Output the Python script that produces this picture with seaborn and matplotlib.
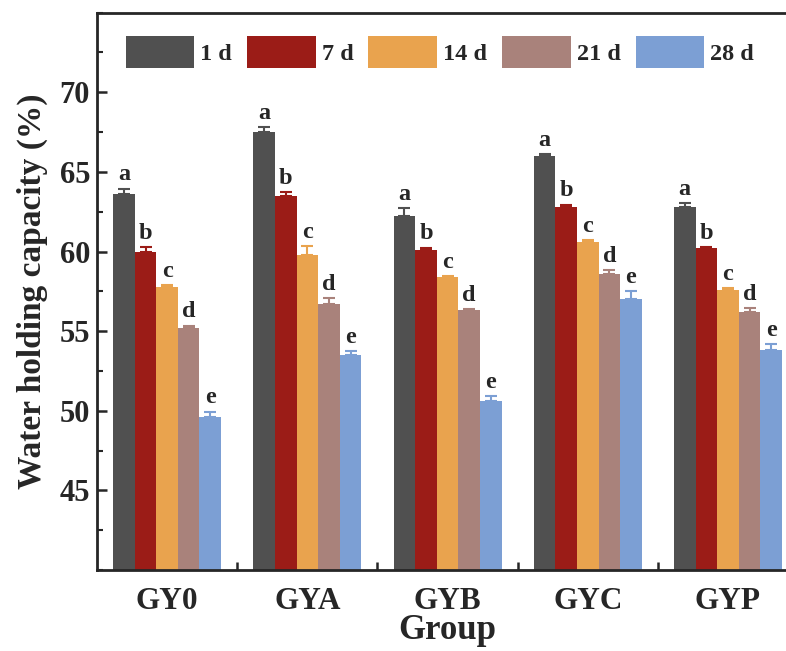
import matplotlib
matplotlib.use('Agg')
import matplotlib.pyplot as plt
import seaborn as sns
import pandas as pd
from matplotlib.ticker import MultipleLocator, FixedLocator

groups = ['GY0', 'GYA', 'GYB', 'GYC', 'GYP']
days = ['1 d', '7 d', '14 d', '21 d', '28 d']
colors = ['#505050', '#9b1c17', '#e9a34e', '#a9827b', '#7c9fd4']

# mean values, one list per day (order of groups)
val_1d = [63.6, 67.5, 62.2, 66.0, 62.8]
val_7d = [60.0, 63.5, 60.1, 62.8, 60.2]
val_14d = [57.8, 59.8, 58.4, 60.6, 57.6]
val_21d = [55.2, 56.7, 56.3, 58.6, 56.2]
val_28d = [49.6, 53.5, 50.6, 57.0, 53.8]

# standard errors
err_1d = [0.35, 0.3, 0.55, 0.12, 0.25]
err_7d = [0.3, 0.25, 0.15, 0.15, 0.08]
err_14d = [0.08, 0.55, 0.08, 0.12, 0.1]
err_21d = [0.15, 0.4, 0.08, 0.25, 0.25]
err_28d = [0.35, 0.25, 0.3, 0.5, 0.4]

letters = ['a', 'b', 'c', 'd', 'e']

values = [val_1d, val_7d, val_14d, val_21d, val_28d]
errors = [err_1d, err_7d, err_14d, err_21d, err_28d]

rows = []
for d, vals in zip(days, values):
    for g, v in zip(groups, vals):
        rows.append({'Group': g, 'Day': d, 'Value': v})
df = pd.DataFrame(rows)

sns.set_style('ticks')
plt.rcParams['font.family'] = ['Liberation Serif', 'DejaVu Serif']
plt.rcParams['font.weight'] = 'bold'

fig = plt.figure(figsize=(7.86, 6.51), dpi=100)
ax = fig.add_axes([0.1234, 0.1245, 0.892, 0.856])

sns.barplot(data=df, x='Group', y='Value', hue='Day', order=groups,
            hue_order=days, palette=colors, width=0.77, errorbar=None,
            saturation=1, linewidth=0, ax=ax)

# error bars (upper only) and significance letters
bar_conts = list(ax.containers)
for i, cont in enumerate(bar_conts):
    xs = [p.get_x() + p.get_width() / 2 for p in cont.patches]
    ys = [p.get_height() for p in cont.patches]
    ax.errorbar(xs, ys, yerr=[[0] * len(ys), errors[i]], fmt='none',
                ecolor=colors[i], elinewidth=1.5, capsize=4.3, capthick=1.5)
    for x, y, e in zip(xs, ys, errors[i]):
        ax.text(x, y + e + 0.2, letters[i], ha='center', va='bottom',
                fontsize=17.5, fontweight='bold')

ax.set_ylim(40, 75)
ax.set_xlim(-0.5, 4.5)
ax.yaxis.set_major_locator(FixedLocator([45, 50, 55, 60, 65, 70]))
ax.yaxis.set_minor_locator(MultipleLocator(2.5))
ax.xaxis.set_minor_locator(FixedLocator([0.5, 1.5, 2.5, 3.5]))
ax.tick_params(axis='y', which='major', direction='in', length=7, width=1.8,
               labelsize=22, pad=5)
ax.tick_params(axis='y', which='minor', direction='in', length=4, width=1.5)
ax.tick_params(axis='x', which='major', length=0, labelsize=22.5, pad=12)
ax.tick_params(axis='x', which='minor', direction='in', length=6, width=1.8)

for s in ax.spines.values():
    s.set_linewidth(2)

ax.set_xlabel('Group', fontsize=25, fontweight='bold', labelpad=-1)
ax.set_ylabel('Water holding capacity (%)', fontsize=24, fontweight='bold',
              labelpad=8)

ax.legend(loc='upper left', bbox_to_anchor=(0.02, 0.985), ncol=5,
          frameon=False, handlelength=2.82, handleheight=1.7,
          handletextpad=0.25, columnspacing=0.62, borderaxespad=0.2,
          prop={'weight': 'bold', 'size': 17.5})

fig.savefig('out.png', dpi=100)
